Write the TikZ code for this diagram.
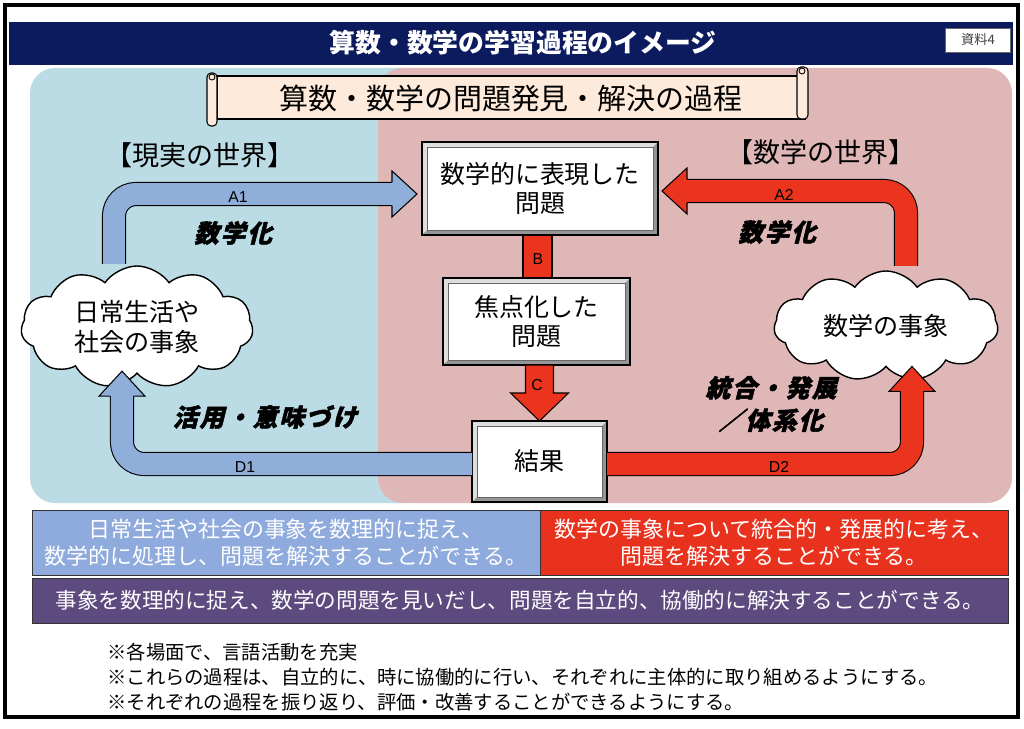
\documentclass[tikz,border=0pt]{standalone}
\usepackage{fontspec}
\setmainfont{Noto Sans CJK JP}
\newfontfamily\emfont{Noto Sans CJK JP}[FakeSlant=0.25,FakeBold=2,LetterSpace=8]
\newfontfamily\latfont{Liberation Sans}
\usepackage{tikz}
\usetikzlibrary{positioning,shapes.symbols,calc}
\newdimen\upx \upx=0.02cm
\definecolor{navy}{RGB}{12,27,94}
\definecolor{realbg}{RGB}{188,220,229}
\definecolor{mathbg}{RGB}{224,183,183}
\definecolor{scroll}{RGB}{253,234,218}
\definecolor{armblue}{RGB}{143,174,218}
\definecolor{armred}{RGB}{234,52,30}
\definecolor{stripblue}{RGB}{143,170,220}
\definecolor{stripred}{RGB}{233,50,30}
\definecolor{strippurple}{RGB}{93,75,128}
\definecolor{bevlite}{RGB}{222,222,222}
\definecolor{bevdark}{RGB}{150,150,150}
\newcommand{\fathead}[3]{% tip, direction, fill
  \begin{scope}[shift={(#1)},rotate=#2]
    \fill[#3] (-25,-12.3) -- (-25,-23) -- (0,0) -- (-25,23) -- (-25,12.3) -- cycle;
    \draw[line width=0.6pt,line join=miter] (-25,-11.6) -- (-25,-23) -- (0,0) -- (-25,23) -- (-25,11.6);
  \end{scope}}

\begin{document}
\begin{tikzpicture}[x=0.02cm,y=0.02cm,
  bevbox/.style={fill=white,inner sep=0pt,outer sep=0pt,align=center,font=\fontsize{14.2}{16}\selectfont},
  puff/.style={cloud,cloud puffs=11,cloud puff arc=110,cloud ignores aspect,draw,fill=white,line width=0.8pt,inner sep=0pt,outer sep=0pt,align=center,font=\fontsize{14.3}{17}\selectfont},
  band/.style={draw=black,line width=0.6pt,double=#1,double distance=0.44cm,rounded corners=0.44cm},
  armlbl/.style={font=\latfont\fontsize{9}{9}\selectfont,inner sep=0pt},
  emlbl/.style={font=\emfont\bfseries\fontsize{14}{18.5}\selectfont,align=center,inner sep=0pt},
  strip/.style={draw=black!80,line width=0.5pt,text=white,inner sep=0pt,outer sep=0pt,align=center}]
  \useasboundingbox (0,0) rectangle (1024,728);
  \fill[white] (0,0) rectangle (1024,728);
  % frame and title bar
  \draw[line width=2.2pt] (5,723) rectangle (1018,11);
  \fill[navy] (9,706) rectangle (1013,663);
  \node[text=white,font=\bfseries\fontsize{14.7}{16}\selectfont] (title) at (523,685) {算数・数学の学習過程のイメージ};
  \node[draw=black!60,fill=white,minimum width=65\upx,minimum height=24\upx,inner sep=0pt,font=\fontsize{7.5}{8}\selectfont,text=black!75] (tag) at (978,688) {資料4};
  % the two worlds
  \fill[realbg,rounded corners=0.5cm] (30,660) rectangle (430,225);
  \fill[mathbg,rounded corners=0.5cm] (378,660) rectangle (1012,225);
  % scroll
  \draw[fill=scroll,line width=0.6pt] (217,652) rectangle (805,609);
  \draw[fill=scroll,line width=0.6pt,rounded corners=0.08cm] (207,655) rectangle (217,602);
  \draw[fill=scroll,line width=0.6pt,rounded corners=0.08cm] (797,661) rectangle (808,609);
  \draw[line width=0.5pt] (212,651) circle (0.06cm);
  \draw[line width=0.5pt] (802,657) circle (0.06cm);
  \node[font=\fontsize{16.5}{18}\selectfont] (scrolltxt) at (511,630) {算数・数学の問題発見・解決の過程};
  \node[font=\fontsize{15.4}{17}\selectfont] (realhd) at (200,573) {【現実の世界】};
  \node[font=\fontsize{15.4}{17}\selectfont] (mathhd) at (821,576) {【数学の世界】};
  % problem boxes
  \node[bevbox,minimum width=236\upx,minimum height=93\upx] (prob) at (540,539.5) {数学的に表現した\\問題};
  \node[bevbox,minimum width=187\upx,minimum height=87\upx] (focus) at (536.5,406.5) {焦点化した\\問題};
  \node[bevbox,minimum width=135\upx,minimum height=81\upx] (result) at (539.5,266.5) {結果};
  \foreach \b in {prob,focus,result} {
    \fill[bevlite] (\b.south west) -- (\b.north west) -- (\b.north east) -- ([shift={(-5,-5)}]\b.north east) -- ([shift={(5,-5)}]\b.north west) -- ([shift={(5,5)}]\b.south west) -- cycle;
    \fill[bevdark] (\b.south west) -- (\b.south east) -- (\b.north east) -- ([shift={(-5,-5)}]\b.north east) -- ([shift={(-5,5)}]\b.south east) -- ([shift={(5,5)}]\b.south west) -- cycle;
    \draw[line width=0.6pt] (\b.south west) rectangle (\b.north east);
    \draw[black!60,line width=0.3pt] ([shift={(5,5)}]\b.south west) rectangle ([shift={(-5,-5)}]\b.north east);
  }
  % clouds
  \node[puff,minimum width=232\upx,minimum height=122\upx] (realev) at (137,401) {日常生活や\\社会の事象};
  \node[puff,minimum width=224\upx,minimum height=110\upx] (mathev) at (886,402) {数学の事象};
  % thick arrows
  \coordinate (a1tip) at ([shift={(-5,-5.5)}]prob.west);
  \coordinate (a2tip) at ([shift={(4,-2.5)}]prob.east);
  \coordinate (d1tip) at ([shift={(-15,2)}]realev.south);
  \coordinate (d2tip) at ([shift={(26,0)}]mathev.south);
  \draw[band=armblue] ([shift={(-23,2)}]realev.north) |- ([shift={(-24,0)}]a1tip);
  \draw[band=armred] ([shift={(20,5)}]mathev.north) |- ([shift={(24,0)}]a2tip);
  \draw[band=armblue] ([yshift=-2.5\upx]result.west) -| ([shift={(0,-24)}]d1tip);
  \draw[band=armred] ([yshift=-2.5\upx]result.east) -| ([shift={(0,-24)}]d2tip);
  \fathead{a1tip}{0}{armblue}
  \fathead{a2tip}{180}{armred}
  \fathead{d1tip}{90}{armblue}
  \fathead{d2tip}{90}{armred}
  \draw[fill=armred,line width=0.6pt] ([xshift=-17\upx]prob.south) rectangle ([xshift=15.5\upx]focus.north);
  \draw[fill=armred,line width=0.6pt,line join=miter] (result.north) -- ++(-29,28) -- ++(15,0) -- ++(0,28) -- ++(28,0) -- ++(0,-28) -- ++(15,0) -- cycle;
  \node[armlbl] (lA1) at (238,531) {A1};
  \node[armlbl] (lA2) at (784,533) {A2};
  \node[armlbl] (lD1) at (245,261) {D1};
  \node[armlbl] (lD2) at (779,261) {D2};
  \node[armlbl] (lB) at (538,469) {B};
  \node[armlbl] (lC) at (537,343) {C};
  \node[emlbl] (mathzL) at (233,495) {数学化};
  \node[emlbl] (mathzR) at (777,496) {数学化};
  \node[emlbl] (apply) at (265,311) {活用・意味づけ};
  \node[emlbl] (integ) at (771,324) {統合・発展\\／体系化};
  % goals
  \node[strip,fill=stripblue,minimum width=508\upx,minimum height=65\upx,font=\fontsize{12.5}{15.3}\selectfont] (goalreal) at (286,185.5) {日常生活や社会の事象を数理的に捉え、\\数学的に処理し、問題を解決することができる。};
  \node[strip,fill=stripred,minimum width=468\upx,minimum height=65\upx,font=\fontsize{12.5}{15.3}\selectfont] (goalmath) at (774,185.5) {数学の事象について統合的・発展的に考え、\\問題を解決することができる。};
  \node[strip,fill=strippurple,minimum width=976\upx,minimum height=45\upx,font=\fontsize{12.3}{14}\selectfont] (goalall) at (520,127.5) {事象を数理的に捉え、数学の問題を見いだし、問題を自立的、協働的に解決することができる。};
  \node[anchor=west,align=left,inner sep=0pt,font=\fontsize{11}{14.2}\selectfont] (notes) at (107,51) {※各場面で、言語活動を充実\\※これらの過程は、自立的に、時に協働的に行い、それぞれに主体的に取り組めるようにする。\\※それぞれの過程を振り返り、評価・改善することができるようにする。};
\end{tikzpicture}
\end{document}
